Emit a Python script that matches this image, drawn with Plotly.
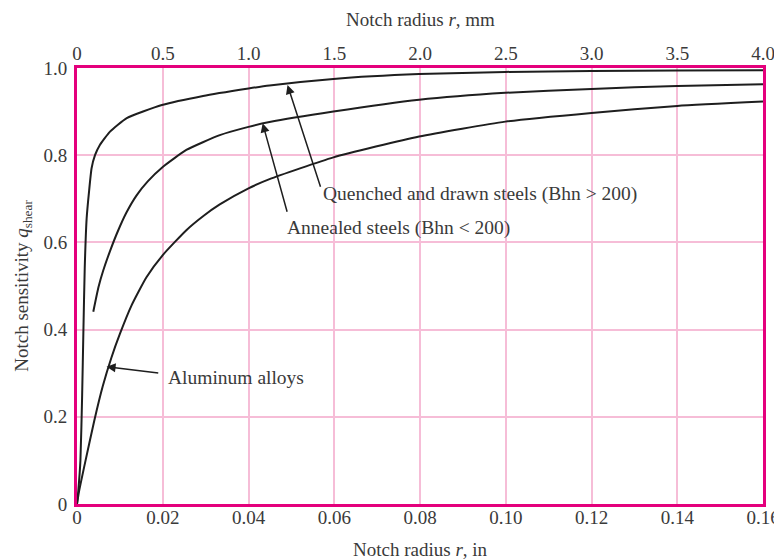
import plotly.graph_objects as go

# Tick values / labels
in_ticks = [0, 0.02, 0.04, 0.06, 0.08, 0.10, 0.12, 0.14, 0.16]
in_labels = ["0", "0.02", "0.04", "0.06", "0.08", "0.10", "0.12", "0.14", "0.16"]
mm_ticks = [0, 0.5, 1.0, 1.5, 2.0, 2.5, 3.0, 3.5, 4.0]
mm_labels = ["0", "0.5", "1.0", "1.5", "2.0", "2.5", "3.0", "3.5", "4.0"]
q_ticks = [0, 0.2, 0.4, 0.6, 0.8, 1.0]
q_labels = ["0", "0.2", "0.4", "0.6", "0.8", "1.0"]

# Quenched and drawn steels (Bhn > 200)
qd_r = [0, 0.0003, 0.0008, 0.0012, 0.0015, 0.0018, 0.00225, 0.0028, 0.0034, 0.0042, 0.0053,
        0.0077, 0.0116, 0.0198, 0.0294, 0.040, 0.0449, 0.0598, 0.0798, 0.0999, 0.12, 0.14, 0.16]
qd_q = [0, 0.03, 0.10, 0.25, 0.40, 0.54, 0.655, 0.716, 0.77, 0.80, 0.823,
        0.854, 0.885, 0.915, 0.936, 0.953, 0.960, 0.975, 0.986, 0.991, 0.993, 0.994, 0.995]

# Annealed steels (Bhn < 200)
an_r = [0.0038, 0.0050, 0.0061, 0.0077, 0.0095, 0.0115, 0.0139, 0.0165, 0.020, 0.0255, 0.0333,
        0.040, 0.0449, 0.0598, 0.0798, 0.0999, 0.12, 0.14, 0.16]
an_q = [0.441, 0.497, 0.535, 0.580, 0.625, 0.668, 0.708, 0.740, 0.773, 0.812, 0.846,
        0.865, 0.876, 0.900, 0.927, 0.943, 0.952, 0.959, 0.963]

# Aluminum alloys
al_r = [0, 0.0005, 0.002, 0.004, 0.006, 0.008, 0.010, 0.0127, 0.0162, 0.0201, 0.0255, 0.0294,
        0.0333, 0.040, 0.0449, 0.0598, 0.0798, 0.0999, 0.12, 0.14, 0.16]
al_q = [0, 0.03, 0.10, 0.19, 0.27, 0.335, 0.39, 0.455, 0.52, 0.572, 0.628, 0.660,
        0.687, 0.724, 0.745, 0.795, 0.843, 0.877, 0.897, 0.913, 0.923]

FONT = "Liberation Serif"
FS = 19
TXT = "#3a3a3a"
CURVE = "#1e1e1e"
FRAME = "#E4007C"
GRID = "#F6BDD7"

fig = go.Figure()
for xs, ys in [(qd_r, qd_q), (an_r, an_q), (al_r, al_q)]:
    fig.add_trace(go.Scatter(x=xs, y=ys, mode="lines",
                             line=dict(color=CURVE, width=2, shape="spline", smoothing=0.5),
                             showlegend=False, hoverinfo="skip"))
# invisible trace to activate the top (mm) axis
fig.add_trace(go.Scatter(x=[mm_ticks[0], mm_ticks[-1]], y=[None, None], xaxis="x2",
                         mode="lines", showlegend=False, hoverinfo="skip"))

# Labels with leader arrows: (text, text_x, text_y, tip_x, tip_y, tail_x, tail_y)
labels = [
    ("Quenched and drawn steels (Bhn &gt; 200)", 0.0570, 0.711, 0.0491, 0.961, 0.0569, 0.724),
    ("Annealed steels (Bhn &lt; 200)", 0.0486, 0.634, 0.0433, 0.873, 0.0491, 0.667),
    ("Aluminum alloys", 0.0208, 0.290, 0.0069, 0.315, 0.0193, 0.300),
]
for text, tx, ty, hx, hy, sx, sy in labels:
    fig.add_annotation(x=hx, y=hy, ax=sx, ay=sy, xref="x", yref="y", axref="x", ayref="y",
                       text="", showarrow=True, arrowhead=2, arrowsize=1.2, arrowwidth=1.5,
                       arrowcolor=CURVE, standoff=0, startstandoff=0)
    fig.add_annotation(x=tx, y=ty, xref="x", yref="y", text=text, showarrow=False,
                       xanchor="left", yanchor="middle",
                       font=dict(family=FONT, size=19.5, color=TXT))

# Axis titles placed as paper annotations
fig.add_annotation(x=0.5, y=1.112, xref="paper", yref="paper", showarrow=False,
                   text="Notch radius <i>r</i>, mm", xanchor="center", yanchor="middle",
                   font=dict(family=FONT, size=FS, color=TXT))
fig.add_annotation(x=0.5, y=-0.1055, xref="paper", yref="paper", showarrow=False,
                   text="Notch radius <i>r</i>, in", xanchor="center", yanchor="middle",
                   font=dict(family=FONT, size=FS, color=TXT))
fig.add_annotation(x=-0.079, y=0.50, xref="paper", yref="paper", showarrow=False,
                   text="Notch sensitivity <i>q</i><sub>shear</sub>", textangle=-90,
                   xanchor="center", yanchor="middle",
                   font=dict(family=FONT, size=FS, color=TXT))

# The page body adds an 8 px offset; the figure is sized so the plot frame
# lands at the same window position as in the reference.
fig.update_layout(
    width=774, height=551,
    margin=dict(l=69, r=19, t=60, b=55, autoexpand=False),
    paper_bgcolor="white", plot_bgcolor="white",
    font=dict(family=FONT, size=FS, color=TXT),
    xaxis=dict(range=[0, 0.16], tickvals=in_ticks, ticktext=in_labels, automargin=False,
               showgrid=True, gridcolor=GRID, gridwidth=2, zeroline=False,
               showline=True, linecolor=FRAME, linewidth=3, mirror=True,
               ticks="", tickfont=dict(size=FS), ticklabelstandoff=-6),
    xaxis2=dict(range=[0, 4.0], overlaying="x", side="top", anchor="y", automargin=False,
                tickvals=mm_ticks, ticktext=mm_labels, showgrid=False, zeroline=False,
                showline=False, ticks="", tickfont=dict(size=FS), ticklabelstandoff=3),
    yaxis=dict(range=[0, 1.0], tickvals=q_ticks, ticktext=q_labels, automargin=False,
               showgrid=True, gridcolor=GRID, gridwidth=2, zeroline=False,
               showline=True, linecolor=FRAME, linewidth=3, mirror=True,
               ticks="", tickfont=dict(size=FS), ticklabelstandoff=3),
)

fig.write_html("out.html")
